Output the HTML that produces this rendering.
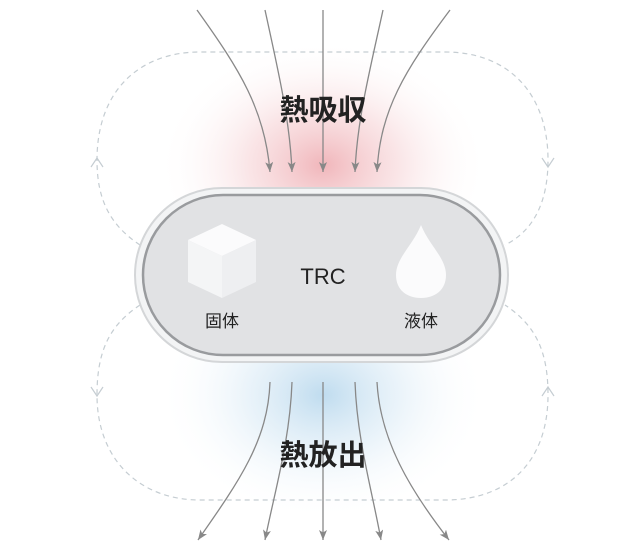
<!DOCTYPE html>
<html><head><meta charset="utf-8"><style>
html,body{margin:0;padding:0;background:#fff;}
svg{display:block;}
text{font-family:"Liberation Sans","Noto Sans CJK JP",sans-serif;fill:#222;}
</style></head><body>
<svg width="640" height="555" viewBox="0 0 640 555" xmlns="http://www.w3.org/2000/svg">
<defs>
<radialGradient id="red" cx="0.5" cy="0.5" r="0.5">
<stop offset="0" stop-color="#f0b2b7" stop-opacity="0.95"/>
<stop offset="0.45" stop-color="#f6d3d6" stop-opacity="0.6"/>
<stop offset="1" stop-color="#ffffff" stop-opacity="0"/>
</radialGradient>
<radialGradient id="blue" cx="0.5" cy="0.5" r="0.5">
<stop offset="0" stop-color="#bcdaee" stop-opacity="0.95"/>
<stop offset="0.45" stop-color="#dbebf6" stop-opacity="0.6"/>
<stop offset="1" stop-color="#ffffff" stop-opacity="0"/>
</radialGradient>
<marker id="ah" markerWidth="12" markerHeight="10" refX="10" refY="4" orient="auto" markerUnits="userSpaceOnUse">
<path d="M0,0 L10,4 L0,8 L2.5,4 Z" fill="#888"/>
</marker>
</defs>
<ellipse cx="323" cy="165" rx="165" ry="125" fill="url(#red)"/>
<ellipse cx="323" cy="395" rx="165" ry="125" fill="url(#blue)"/>

<g fill="none" stroke="#c5cdd2" stroke-width="1.2" stroke-dasharray="5,4">
<path d="M140,245 C110,225 97,200 97,160 C97,90 140,52 200,52 L445,52 C510,52 548,95 548,160 C548,200 535,230 505,245"/>
<path d="M140,305 C110,325 97,350 97,395 C97,460 140,500 200,500 L445,500 C510,500 548,460 548,395 C548,350 535,325 505,305"/>
</g>
<g fill="none" stroke="#c5cdd2" stroke-width="1.2">
<path d="M91,167 L97,158 L103,167"/>
<path d="M542,158 L548,167 L554,158"/>
<path d="M91,387 L97,396 L103,387"/>
<path d="M542,396 L548,387 L554,396"/>
</g>

<g fill="none" stroke="#888" stroke-width="1.3" marker-end="url(#ah)">
<path d="M197,10 C240,70 265,110 270,172"/>
<path d="M265,10 C278,70 290,120 292,172"/>
<path d="M323,10 L323,172"/>
<path d="M383,10 C370,70 357,120 355,172"/>
<path d="M450,10 C405,70 380,110 377,172"/>
<path d="M270,382 C268,440 240,480 198,540"/>
<path d="M292,382 C290,440 275,490 265,540"/>
<path d="M323,382 L323,540"/>
<path d="M355,382 C357,440 372,490 381,540"/>
<path d="M377,382 C380,440 410,490 449,540"/>
</g>

<text x="323" y="120" font-size="29" font-weight="bold" text-anchor="middle">熱吸収</text>
<text x="323" y="465" font-size="29" font-weight="bold" text-anchor="middle">熱放出</text>

<rect x="135" y="188" width="373" height="174" rx="87" fill="#f3f4f5" stroke="#d4d6d8" stroke-width="2"/>
<rect x="143" y="195" width="357" height="160" rx="80" fill="#e1e2e4" stroke="#999b9e" stroke-width="2.5"/>

<g>
<polygon points="222,224 256,240 222,256 188,240" fill="#fbfbfc"/>
<polygon points="188,240 222,256 222,298 188,282" fill="#f4f5f6"/>
<polygon points="256,240 222,256 222,298 256,282" fill="#eeeff1"/>
</g>
<path d="M421,225 C413,245 396,258 396,275 C396,290 407,298 421,298 C435,298 446,290 446,275 C446,258 429,245 421,225 Z" fill="#fbfbfc"/>

<text x="323" y="284" font-size="22" text-anchor="middle">TRC</text>
<text x="222" y="327" font-size="17" text-anchor="middle">固体</text>
<text x="421" y="327" font-size="17" text-anchor="middle">液体</text>
</svg>
</body></html>
